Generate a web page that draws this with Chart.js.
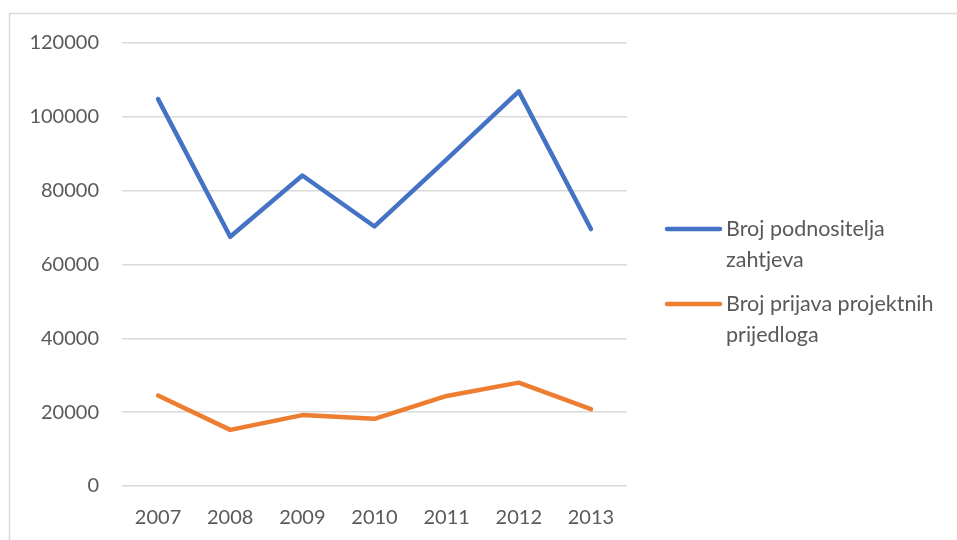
<!doctype html>
<html lang="hr">
<head>
<meta charset="utf-8" />
<title>Broj podnositelja zahtjeva</title>
<style>
  html,body{margin:0;padding:0;background:#fff}
  #wrap{width:957px;height:540px;position:relative}
</style>
<script src="https://cdn.jsdelivr.net/npm/chart.js@4.4.1/dist/chart.umd.min.js"></script>
</head>
<body>
<div id="wrap"><canvas id="c" width="957" height="540"></canvas></div>
<script>
const years = ["2007", "2008", "2009", "2010", "2011", "2012", "2013"];
const podnositelji = [104800, 67500, 84100, 70300, 88500, 106900, 69600];
const prijave = [24500, 15200, 19200, 18200, 24400, 28000, 20800];
const yTicks = [0, 20000, 40000, 60000, 80000, 100000, 120000];
const legendLines = [
  ["Broj podnositelja", "zahtjeva"],
  ["Broj prijava projektnih", "prijedloga"]
];

const FONT = "Lato, 'Open Sans', sans-serif";
const TXT = "#595959";
const GRID = "#d9d9d9";

// outer frame + wrapped legend (Chart.js legend can't wrap like Excel does)
const excelBits = {
  id: "excelBits",
  beforeDraw(chart){
    const ctx = chart.ctx;
    ctx.save();
    ctx.strokeStyle = GRID;
    ctx.lineWidth = 1.5;
    ctx.strokeRect(9.5, 13.5, 970, 560);
    ctx.restore();
  },
  afterDraw(chart){
    const ctx = chart.ctx;
    const x0 = chart.chartArea.right + 40;
    let y = 229;
    ctx.save();
    ctx.font = "21.5px " + FONT;
    ctx.textBaseline = "middle";
    ctx.textAlign = "left";
    chart.data.datasets.forEach((ds, i) => {
      ctx.strokeStyle = ds.borderColor;
      ctx.lineWidth = 4.5;
      ctx.lineCap = "round";
      ctx.beginPath();
      ctx.moveTo(x0, y);
      ctx.lineTo(x0 + 53, y);
      ctx.stroke();
      ctx.fillStyle = TXT;
      legendLines[i].forEach((t, j) => ctx.fillText(t, x0 + 59, y + j * 31));
      y += 75;
    });
    ctx.restore();
  }
};

new Chart(document.getElementById("c"), {
  type: "line",
  data: {
    labels: years,
    datasets: [
      { label: legendLines[0].join(" "), data: podnositelji, borderColor: "#4472C4" },
      { label: legendLines[1].join(" "), data: prijave, borderColor: "#ED7D31" }
    ]
  },
  options: {
    responsive: false,
    animation: false,
    devicePixelRatio: 1,
    layout: { padding: { left: 0, top: 43, right: 330, bottom: 0 } },
    elements: {
      line: { borderWidth: 4.5, tension: 0, borderCapStyle: "round", borderJoinStyle: "round", fill: false },
      point: { radius: 0, hoverRadius: 0 }
    },
    plugins: { legend: { display: false }, tooltip: { enabled: false } },
    scales: {
      x: {
        offset: true,
        grid: { display: false, drawTicks: false },
        border: { display: false },
        ticks: { color: TXT, font: { family: FONT, size: 20 }, padding: 20, maxRotation: 0 },
        afterFit(s){ s.height = 54; }
      },
      y: {
        min: 0, max: 120000,
        afterBuildTicks(s){ s.ticks = yTicks.map(v => ({ value: v })); },
        grid: { color: GRID, lineWidth: 1.5, drawTicks: false },
        border: { display: false },
        ticks: { color: TXT, font: { family: FONT, size: 20 }, padding: 23, callback: v => String(v) },
        afterFit(s){ s.width = 122; }
      }
    }
  },
  plugins: [excelBits]
});
</script>
</body>
</html>
